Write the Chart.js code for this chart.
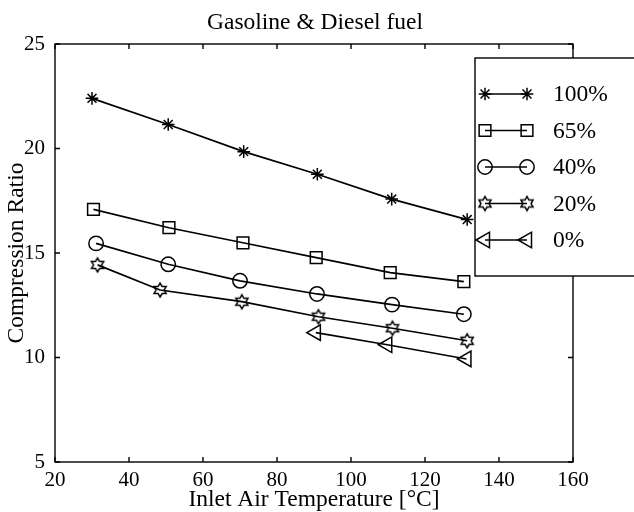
<!DOCTYPE html>
<html>
<head>
<meta charset="utf-8">
<script src="https://cdn.jsdelivr.net/npm/chart.js@4.4.1/dist/chart.umd.min.js"></script>
<style>
  html, body { margin: 0; padding: 0; background: #ffffff; }
  canvas { display: block; }
</style>
</head>
<body>
<canvas id="c" width="634" height="512"></canvas>
<script>
// Compression ratio vs. inlet air temperature, one series per gasoline share
const seriesNames = ['100%', '65%', '40%', '20%', '0%'];

const temp100 = [30, 50.6, 71, 90.9, 111, 131.4];
const ratio100 = [22.4, 21.15, 19.85, 18.77, 17.58, 16.6];

const temp65 = [30.4, 50.8, 70.8, 90.6, 110.6, 130.5];
const ratio65 = [17.09, 16.21, 15.49, 14.78, 14.06, 13.63];

const temp40 = [31.1, 50.6, 70, 90.8, 111.1, 130.5];
const ratio40 = [15.46, 14.46, 13.67, 13.04, 12.53, 12.07];

const temp20 = [31.5, 48.4, 70.5, 91.2, 111.2, 131.4];
const ratio20 = [14.43, 13.23, 12.67, 11.95, 11.4, 10.8];

const temp0 = [90.5, 109.8, 131.2];
const ratio0 = [11.19, 10.61, 9.93];

const xTicks = [20, 40, 60, 80, 100, 120, 140, 160];
const yTicks = [5, 10, 15, 20, 25];

const FONT = '"Liberation Serif", "Times New Roman", serif';
const INK = '#000000';

// Six-pointed star outline, which Chart.js has no built-in style for
function makeHexagram(R) {
  const size = Math.ceil(R * 2 + 4);
  const cv = document.createElement('canvas');
  cv.width = size; cv.height = size;
  const g = cv.getContext('2d');
  const c = size / 2, r = R / Math.sqrt(3);
  g.beginPath();
  for (let k = 0; k < 12; k++) {
    const a = -Math.PI / 2 + k * Math.PI / 6;
    const rad = k % 2 === 0 ? R : r;
    const px = c + rad * Math.cos(a), py = c + rad * Math.sin(a);
    if (k === 0) g.moveTo(px, py); else g.lineTo(px, py);
  }
  g.closePath();
  g.strokeStyle = INK; g.lineWidth = 1.5; g.stroke();
  return cv;
}
const hexagram = makeHexagram(7);

function pairs(xs, ys) { return xs.map((x, i) => ({ x: x, y: ys[i] })); }

const markers = [
  { style: 'star', radius: 6.3, rotation: 0 },
  { style: 'rect', radius: 8.3, rotation: 0 },
  { style: 'circle', radius: 7.2, rotation: 0 },
  { style: hexagram, radius: 7, rotation: 0 },
  { style: 'triangle', radius: 9, rotation: -90 }
];
const seriesData = [
  pairs(temp100, ratio100),
  pairs(temp65, ratio65),
  pairs(temp40, ratio40),
  pairs(temp20, ratio20),
  pairs(temp0, ratio0)
];

const datasets = seriesNames.map((name, i) => ({
  label: name,
  data: seriesData[i],
  borderColor: INK,
  borderWidth: 1.7,
  tension: 0,
  fill: false,
  pointStyle: markers[i].style,
  pointRadius: markers[i].radius,
  pointHoverRadius: markers[i].radius,
  pointRotation: markers[i].rotation,
  pointBorderColor: INK,
  pointBackgroundColor: 'rgba(0,0,0,0)',
  pointBorderWidth: 1.5
}));

// Box frame with inward tick marks on all four sides, plus the title
const framePlugin = {
  id: 'frame',
  afterDatasetsDraw(chart) {
    const { ctx, chartArea: a, scales } = chart;
    ctx.save();
    ctx.strokeStyle = INK;
    ctx.lineWidth = 1.4;
    ctx.strokeRect(a.left, a.top, a.right - a.left, a.bottom - a.top);
    const tl = 5;
    ctx.beginPath();
    xTicks.forEach(v => {
      const px = scales.x.getPixelForValue(v);
      ctx.moveTo(px, a.bottom); ctx.lineTo(px, a.bottom - tl);
      ctx.moveTo(px, a.top); ctx.lineTo(px, a.top + tl);
    });
    yTicks.forEach(v => {
      const py = scales.y.getPixelForValue(v);
      ctx.moveTo(a.left, py); ctx.lineTo(a.left + tl, py);
      ctx.moveTo(a.right, py); ctx.lineTo(a.right - tl, py);
    });
    ctx.stroke();

    ctx.fillStyle = INK;
    ctx.font = '23.5px ' + FONT;
    ctx.textAlign = 'center';
    ctx.textBaseline = 'alphabetic';
    ctx.fillText('Gasoline & Diesel fuel', (a.left + a.right) / 2 + 1, 29);
    ctx.restore();
  }
};

// Boxed legend sitting over the upper right corner of the axes
const legendPlugin = {
  id: 'boxLegend',
  afterDraw(chart) {
    const { ctx } = chart;
    const box = { left: 475, top: 58, right: 640, bottom: 276 };
    ctx.save();
    ctx.fillStyle = '#ffffff';
    ctx.fillRect(box.left, box.top, box.right - box.left, box.bottom - box.top);
    ctx.strokeStyle = INK;
    ctx.lineWidth = 1.4;
    ctx.strokeRect(box.left, box.top, box.right - box.left, box.bottom - box.top);

    const rowY0 = 94, rowStep = 36.5;
    const x1 = 485, x2 = 527, textX = 553;
    chart.data.datasets.forEach((ds, i) => {
      const y = rowY0 + i * rowStep;
      ctx.strokeStyle = INK;
      ctx.lineWidth = 1.5;
      ctx.beginPath();
      ctx.moveTo(x1, y); ctx.lineTo(x2, y);
      ctx.stroke();
      ctx.fillStyle = 'rgba(0,0,0,0)';
      ctx.lineWidth = 1.5;
      const opts = { pointStyle: ds.pointStyle, radius: ds.pointRadius, borderWidth: 1.5, rotation: ds.pointRotation };
      Chart.helpers.drawPoint(ctx, opts, x1, y);
      Chart.helpers.drawPoint(ctx, opts, x2, y);
      ctx.fillStyle = INK;
      ctx.font = '23.5px ' + FONT;
      ctx.textAlign = 'left';
      ctx.textBaseline = 'middle';
      ctx.fillText(ds.label, textX, y + 1);
    });
    ctx.restore();
  }
};

new Chart(document.getElementById('c'), {
  type: 'line',
  data: { datasets: datasets },
  options: {
    responsive: false,
    devicePixelRatio: 1,
    animation: false,
    events: [],
    layout: { padding: { top: 44, right: 61, left: 0, bottom: 0 } },
    plugins: {
      legend: { display: false },
      title: { display: false },
      tooltip: { enabled: false }
    },
    scales: {
      x: {
        type: 'linear',
        min: 20, max: 160,
        afterBuildTicks(s) { s.ticks = xTicks.map(v => ({ value: v })); },
        ticks: { color: INK, font: { family: FONT, size: 21 }, padding: -2, maxRotation: 0, autoSkip: false },
        grid: { display: false },
        border: { display: false },
        title: { display: true, text: 'Inlet Air Temperature [°C]', color: INK, font: { family: FONT, size: 23.5, lineHeight: 1.0 }, padding: 0 },
        afterFit(s) { s.height = 50; }
      },
      y: {
        type: 'linear',
        min: 5, max: 25,
        afterBuildTicks(s) { s.ticks = yTicks.map(v => ({ value: v })); },
        ticks: { color: INK, font: { family: FONT, size: 21 }, padding: 2 },
        grid: { display: false },
        border: { display: false },
        title: { display: true, text: 'Compression Ratio', color: INK, font: { family: FONT, size: 23.5 }, padding: { top: 3, bottom: 0 } },
        afterFit(s) { s.width = 55; }
      }
    }
  },
  plugins: [framePlugin, legendPlugin]
});
</script>
</body>
</html>
